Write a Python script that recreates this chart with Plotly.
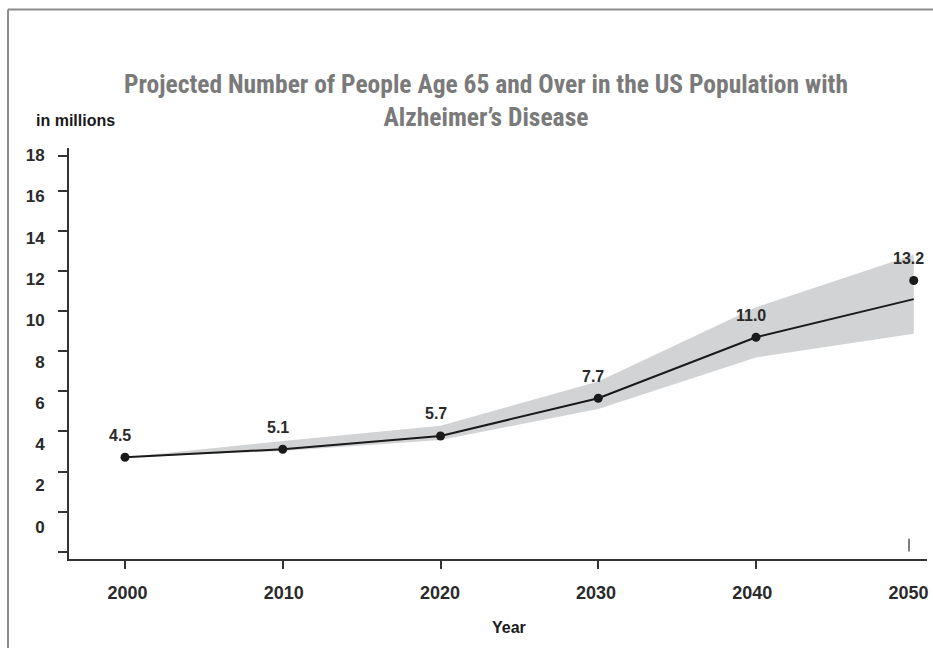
import plotly.graph_objects as go

# ---------------- data ----------------
years = [2000, 2010, 2020, 2030, 2040, 2050]
reported_values = [4.5, 5.1, 5.7, 7.7, 11.0, 13.2]          # printed labels
dot_values = [4.71, 5.11, 5.77, 7.65, 10.69, 13.52]          # plotted dots
line_values = [4.71, 5.11, 5.77, 7.65, 10.69, 12.59]         # central line
band_upper = [4.71, 5.52, 6.28, 8.48, 12.19, 14.80]
band_lower = [4.71, 5.02, 5.57, 7.12, 9.68, 10.86]

y_tick_vals = [0, 2, 4, 6, 8, 10, 12, 14, 16, 18, 19.74]
y_label_vals = [0, 2, 4, 6, 8, 10, 12, 14, 16, 18]
x_tick_vals = [2000, 2010, 2020, 2030, 2040]
x_label_vals = [2000, 2010, 2020, 2030, 2040, 2050]
stray_tick_year = [2049.7]
stray_tick_value = [0.33]

title_line1 = "Projected Number of People Age 65 and Over in the US Population with"
title_line2 = "Alzheimer’s Disease"
x_title = "Year"
y_caption = "in millions"

# ---------------- layout geometry ----------------
W, H = 933, 648
L, R, T, B = 69, 6, 148, 89
pw, ph = W - L - R, H - T - B

def px_x(p):
    return (p - L) / pw

def px_y(p):
    return (H - B - p) / ph

AX = "#333333"
TXT = "#2a2a2a"
FONT = "Liberation Sans, Arial, sans-serif"
COND = "Roboto Condensed, Open Sans Condensed, DejaVu Sans Condensed, Liberation Sans Narrow, Arial Narrow, sans-serif"
ST = "font-stretch:condensed"

fig = go.Figure()

# band
fig.add_trace(go.Scatter(
    x=years + years[::-1],
    y=band_upper + band_lower[::-1],
    fill="toself", fillcolor="#d2d3d5",
    line=dict(width=0), mode="lines",
    hoverinfo="skip", showlegend=False,
))
# line
fig.add_trace(go.Scatter(
    x=years, y=line_values, mode="lines",
    line=dict(color="#1a1a1a", width=2),
    showlegend=False,
))
# dots
fig.add_trace(go.Scatter(
    x=years, y=dot_values, mode="markers",
    marker=dict(color="#1a1a1a", size=9),
    showlegend=False,
))
# stray tick near 2050
fig.add_trace(go.Scatter(
    x=stray_tick_year, y=stray_tick_value, mode="markers",
    marker=dict(symbol="line-ns", size=9, line=dict(color="#555555", width=1.5)),
    hoverinfo="skip", showlegend=False,
))
# helper trace so the label axes are drawn
fig.add_trace(go.Scatter(
    x=[None], y=[None], xaxis="x2", yaxis="y2",
    mode="markers", hoverinfo="skip", showlegend=False,
))

# value labels
for yr, v, lab in zip(years, dot_values, reported_values):
    fig.add_annotation(
        x=yr, y=v, text=f"{lab:.1f}", showarrow=False,
        xshift=-5, yshift=22,
        font=dict(family=FONT, size=16, color=TXT, weight="bold"),
    )

fig.update_layout(
    width=W, height=H,
    margin=dict(l=L, r=R, t=T, b=B),
    paper_bgcolor="white", plot_bgcolor="white",
    title=dict(
        text=f'<span style="{ST}">{title_line1}</span><br><span style="{ST}">{title_line2}</span>',
        x=px_x(486), xref="paper", xanchor="center",
        y=1 - 93 / H, yref="container", yanchor="middle",
        font=dict(family=COND, size=25.5, color="#7a7a7a", weight="bold"),
    ),
    xaxis=dict(
        range=[1996.45, 2050.84], tickvals=x_tick_vals, showticklabels=False,
        ticks="outside", ticklen=8, tickwidth=1.5, tickcolor=AX,
        showline=True, linecolor=AX, linewidth=1.5,
        showgrid=False, zeroline=False, fixedrange=True,
    ),
    xaxis2=dict(
        overlaying="x", anchor="y", side="bottom",
        range=[1996.25, 2051.19], tickvals=x_label_vals,
        ticktext=[str(v) for v in x_label_vals],
        ticks="outside", ticklen=17, tickcolor="rgba(0,0,0,0)",
        showline=False, showgrid=False, zeroline=False,
        tickfont=dict(family=FONT, size=18, color=TXT, weight="bold"),
    ),
    yaxis=dict(
        range=[-0.36, 20.12], tickvals=y_tick_vals, showticklabels=False,
        ticks="outside", ticklen=9, tickwidth=1.5, tickcolor=AX,
        showline=True, linecolor=AX, linewidth=1.5,
        showgrid=False, zeroline=False, fixedrange=True,
    ),
    yaxis2=dict(
        overlaying="y", anchor="x", side="left",
        range=[-1.56, 18.35], tickvals=y_label_vals,
        ticktext=[str(v) for v in y_label_vals],
        ticks="outside", ticklen=20, tickcolor="rgba(0,0,0,0)",
        showline=False, showgrid=False, zeroline=False,
        tickfont=dict(family=FONT, size=17, color=TXT, weight="bold"),
    ),
)

# x-axis title
fig.add_annotation(
    x=px_x(509), y=px_y(627), xref="paper", yref="paper",
    xanchor="center", yanchor="middle", showarrow=False,
    text=x_title,
    font=dict(family=FONT, size=16, color="#1a1a1a", weight="bold"),
)

# y-axis unit caption
fig.add_annotation(
    x=px_x(34), y=px_y(121), xref="paper", yref="paper",
    xanchor="left", yanchor="middle", showarrow=False,
    text=y_caption,
    font=dict(family=FONT, size=16, color="#1a1a1a", weight="bold"),
)

# container border (left and top)
fig.add_shape(type="line", xref="paper", yref="paper",
              x0=px_x(8), x1=px_x(8), y0=px_y(9.5), y1=px_y(H + 5),
              line=dict(color="#8c8c8c", width=2))
fig.add_shape(type="line", xref="paper", yref="paper",
              x0=px_x(8), x1=px_x(W + 5), y0=px_y(9.5), y1=px_y(9.5),
              line=dict(color="#8c8c8c", width=2))

fig.write_html("out.html")
